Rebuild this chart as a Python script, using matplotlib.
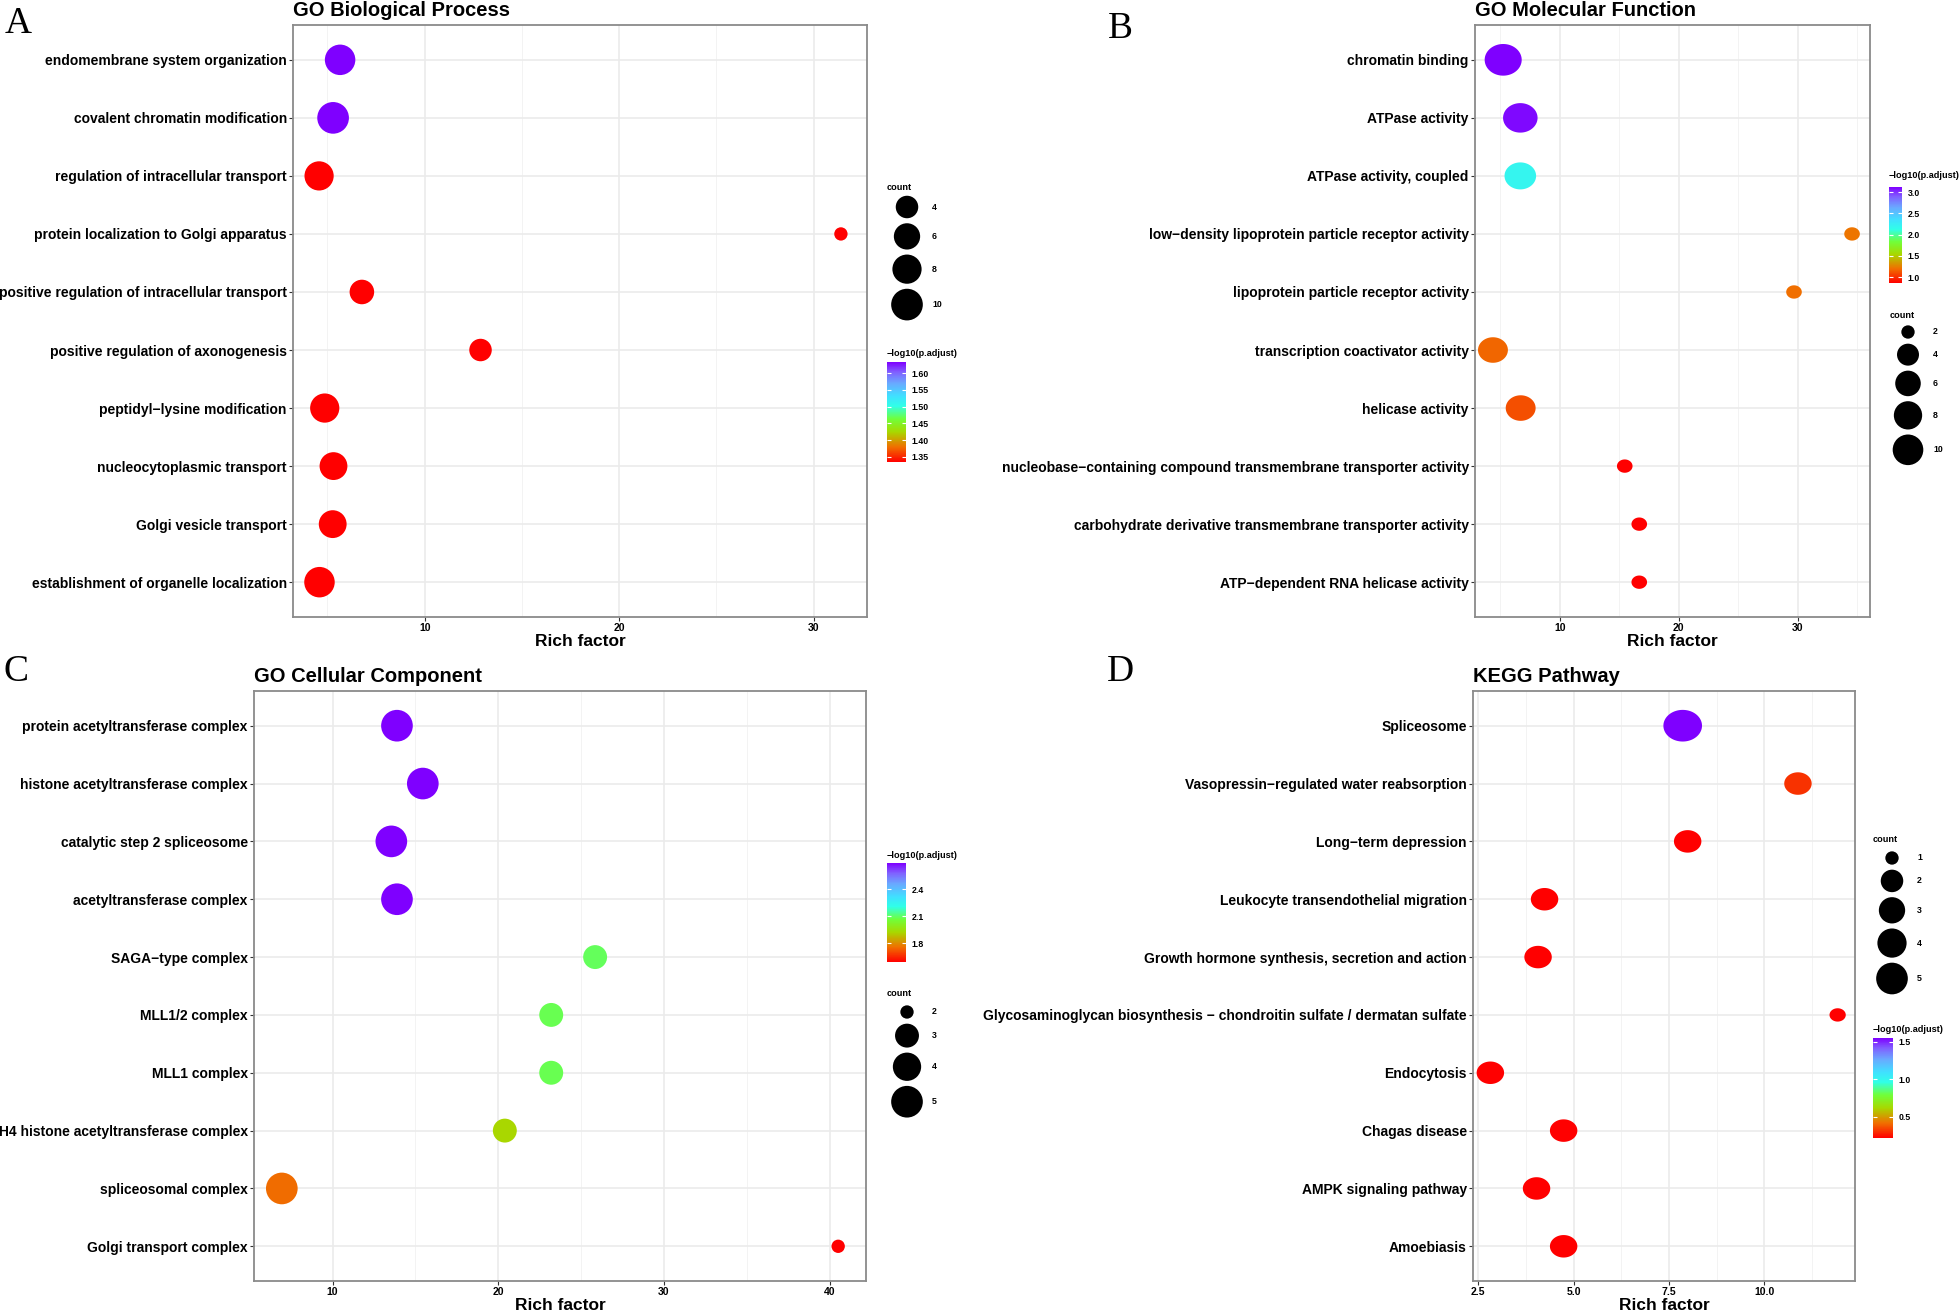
import numpy as np
import matplotlib
matplotlib.use("Agg")
import matplotlib.pyplot as plt
from matplotlib.colors import LinearSegmentedColormap, Normalize
from matplotlib.cm import ScalarMappable
from matplotlib.path import Path

plt.rcParams['font.family'] = ['Liberation Sans', 'DejaVu Sans']

# ---- data -------------------------------------------------------------
bp_terms = ["endomembrane system organization", "covalent chromatin modification",
            "regulation of intracellular transport", "protein localization to Golgi apparatus",
            "positive regulation of intracellular transport", "positive regulation of axonogenesis",
            "peptidyl\u2212lysine modification", "nucleocytoplasmic transport",
            "Golgi vesicle transport", "establishment of organelle localization"]
bp_rich = [5.65, 5.29, 4.57, 31.4, 6.77, 12.87, 4.86, 5.31, 5.27, 4.59]
bp_count = [9, 10, 8, 2, 5, 4, 8, 7, 7, 9]
bp_padj = [1.633, 1.633, 1.335, 1.335, 1.335, 1.335, 1.335, 1.335, 1.335, 1.335]

mf_terms = ["chromatin binding", "ATPase activity", "ATPase activity, coupled",
            "low\u2212density lipoprotein particle receptor activity",
            "lipoprotein particle receptor activity", "transcription coactivator activity",
            "helicase activity",
            "nucleobase\u2212containing compound transmembrane transporter activity",
            "carbohydrate derivative transmembrane transporter activity",
            "ATP\u2212dependent RNA helicase activity"]
mf_rich = [5.25, 6.69, 6.69, 34.58, 29.7, 4.39, 6.72, 15.47, 16.69, 16.69]
mf_count = [11, 9, 7, 2, 2, 6, 6, 2, 2, 2]
mf_padj = [3.12, 3.1, 2.2, 1.22, 1.2, 1.17, 1.1, 0.86, 0.86, 0.86]

cc_terms = ["protein acetyltransferase complex", "histone acetyltransferase complex",
            "catalytic step 2 spliceosome", "acetyltransferase complex",
            "SAGA\u2212type complex", "MLL1/2 complex", "MLL1 complex",
            "H4 histone acetyltransferase complex", "spliceosomal complex",
            "Golgi transport complex"]
cc_rich = [13.89, 15.45, 13.55, 13.89, 25.85, 23.2, 23.2, 20.4, 6.94, 40.52]
cc_count = [5, 5, 5, 5, 3, 3, 3, 3, 5, 2]
cc_padj = [2.69, 2.69, 2.69, 2.69, 2.09, 2.08, 2.08, 1.92, 1.75, 1.59]

kegg_terms = ["Spliceosome", "Vasopressin\u2212regulated water reabsorption",
              "Long\u2212term depression", "Leukocyte transendothelial migration",
              "Growth hormone synthesis, secretion and action",
              "Glycosaminoglycan biosynthesis \u2212 chondroitin sulfate / dermatan sulfate",
              "Endocytosis", "Chagas disease", "AMPK signaling pathway", "Amoebiasis"]
kegg_rich = [7.86, 10.88, 7.99, 4.24, 4.07, 11.92, 2.82, 4.74, 4.03, 4.74]
kegg_count = [5, 2, 2, 2, 2, 1, 2, 2, 2, 2]
kegg_padj = [1.55, 0.31, 0.22, 0.22, 0.22, 0.22, 0.22, 0.22, 0.22, 0.22]

# ---- style ------------------------------------------------------------
W, H = 1960, 1316
PX = 72 / 100  # points per pixel
D_MIN, D_MAX = 9.6, 22.8  # marker diameters in points

cmap = LinearSegmentedColormap.from_list("rb", [
    (0.0, "#FF0000"), (0.15, "#F07000"), (0.3, "#A8D800"), (0.43, "#70FF3A"),
    (0.56, "#30FFE8"), (0.66, "#40E0FF"), (0.79, "#6AA8FF"), (0.9, "#8060FF"),
    (1.0, "#7F00FF")])

fig = plt.figure(figsize=(W / 100, H / 100), dpi=100)
ov = fig.add_axes([0, 0, 1, 1])
ov.set_xlim(0, W)
ov.set_ylim(H, 0)
ov.axis("off")


def rect(l, t, r, b):
    return [l / W, 1 - b / H, (r - l) / W, (b - t) / H]


def dia(c, cmin, cmax):
    c = np.asarray(c, dtype=float)
    return D_MIN + (D_MAX - D_MIN) * np.sqrt((c - cmin) / (cmax - cmin))


def ellipse(aspect):
    # the right-hand panels of the source image are a little stretched sideways
    th = np.linspace(0, 2 * np.pi, 80)
    return Path(np.column_stack([np.cos(th), np.sin(th) / aspect]), closed=True)


def panel(box, terms, rich, counts, padj, title, xticks, xminor, xlabels,
          cnt_breaks, cb_ticks, cb_fmt, leg_count, leg_cbar, aspect=1.0):
    l, t, r, b = box
    ax = fig.add_axes(rect(l, t, r, b))
    n = len(terms)
    y = np.arange(n)[::-1]
    cmin, cmax = min(counts), max(counts)
    norm = Normalize(min(padj), max(padj))
    d = dia(counts, cmin, cmax) * aspect
    marker = "o" if aspect == 1.0 else ellipse(aspect)
    ax.scatter(rich, y, s=d ** 2, c=padj, cmap=cmap, norm=norm, marker=marker,
               linewidths=0, zorder=3)
    lo, hi = min(rich), max(rich)
    pad = 0.05 * (hi - lo)
    ax.set_xlim(lo - pad, hi + pad)
    ax.set_ylim(-0.6, n - 0.4)
    ax.set_yticks(y)
    ax.set_yticklabels(terms, fontsize=10, fontweight="bold")
    ax.set_xticks(xticks)
    ax.set_xticklabels(xlabels, fontsize=7.5, fontweight="bold")
    ax.set_xticks(xminor, minor=True)
    ax.grid(True, which="major", color="#EBEBEB", lw=1.2, zorder=0)
    ax.grid(True, which="minor", axis="x", color="#F3F3F3", lw=0.7, zorder=0)
    ax.tick_params(which="major", length=3, width=0.8, color="#333333", pad=1.5)
    ax.tick_params(which="minor", length=0)
    for sp in ax.spines.values():
        sp.set_color("#8a8a8a")
        sp.set_linewidth(1.3)
    ax.set_axisbelow(True)

    ov.text(l, t - 9, title, fontsize=14.5, fontweight="bold", va="baseline")
    ov.text((l + r) / 2, b + 25, "Rich factor", fontsize=12.5,
            fontweight="bold", ha="center", va="center")

    # count legend
    tx, ty, cx, lx, y0 = leg_count
    ov.text(tx, ty, "count", fontsize=6.6, fontweight="bold", va="center")
    dk = dia(cnt_breaks, cmin, cmax)
    dk_px = dk / PX
    ys = [y0]
    for i in range(1, len(cnt_breaks)):
        ys.append(ys[-1] + (dk_px[i - 1] + dk_px[i]) / 2 + 5)
    ov.scatter([cx] * len(cnt_breaks), ys, s=dk ** 2, c="black", linewidths=0)
    for v, yy in zip(cnt_breaks, ys):
        ov.text(lx, yy, str(v), fontsize=6.3, fontweight="bold", va="center")

    # colour bar
    bx, by, bl, bt, br, bb = leg_cbar
    ov.text(bx, by, "\u2212log10(p.adjust)", fontsize=6.6, fontweight="bold",
            va="center")
    cax = fig.add_axes(rect(bl, bt, br, bb))
    cb = fig.colorbar(ScalarMappable(norm=norm, cmap=cmap), cax=cax)
    cb.outline.set_visible(False)
    cb.set_ticks(cb_ticks)
    cb.set_ticklabels([cb_fmt.format(v) for v in cb_ticks])
    cax.tick_params(which="major", direction="in", color="white", length=3,
                    width=0.8, left=True, right=True, pad=4, labelsize=6.3)
    cax.tick_params(which="minor", length=0)
    for lab in cax.get_yticklabels():
        lab.set_fontweight("bold")
    return ax


panel((293, 25, 867, 617), bp_terms, bp_rich, bp_count, bp_padj,
      "GO Biological Process", [10, 20, 30], [5, 15, 25], ["10", "20", "30"],
      [4, 6, 8, 10], [1.35, 1.40, 1.45, 1.50, 1.55, 1.60], "{:.2f}",
      (887, 187, 907, 932, 207), (887, 353, 887, 362, 906, 462))

panel((1475, 25, 1870, 617), mf_terms, mf_rich, mf_count, mf_padj,
      "GO Molecular Function", [10, 20, 30], [5, 15, 25, 35], ["10", "20", "30"],
      [2, 4, 6, 8, 10], [1.0, 1.5, 2.0, 2.5, 3.0], "{:.1f}",
      (1890, 315, 1908, 1933, 332), (1889, 176, 1889, 187, 1902, 283),
      aspect=1.17)

panel((254, 691, 866, 1281), cc_terms, cc_rich, cc_count, cc_padj,
      "GO Cellular Component", [10, 20, 30, 40], [15, 25, 35],
      ["10", "20", "30", "40"],
      [2, 3, 4, 5], [1.8, 2.1, 2.4], "{:.1f}",
      (887, 993, 907, 932, 1012), (887, 855, 887, 863, 906, 962))

panel((1473, 691, 1855, 1281), kegg_terms, kegg_rich, kegg_count, kegg_padj,
      "KEGG Pathway", [2.5, 5.0, 7.5, 10.0], [3.75, 6.25, 8.75, 11.25],
      ["2.5", "5.0", "7.5", "10.0"],
      [1, 2, 3, 4, 5], [0.5, 1.0, 1.5], "{:.1f}",
      (1873, 840, 1892, 1917, 858), (1873, 1030, 1873, 1038, 1893, 1138),
      aspect=1.22)

for letter, (x, yy) in zip("ABCD", [(18, 24), (1120, 29), (16, 672), (1120, 672)]):
    ov.text(x, yy, letter, fontsize=27, family=["Liberation Serif", "DejaVu Serif"],
            ha="center", va="center")

fig.savefig("out.png", dpi=100)
